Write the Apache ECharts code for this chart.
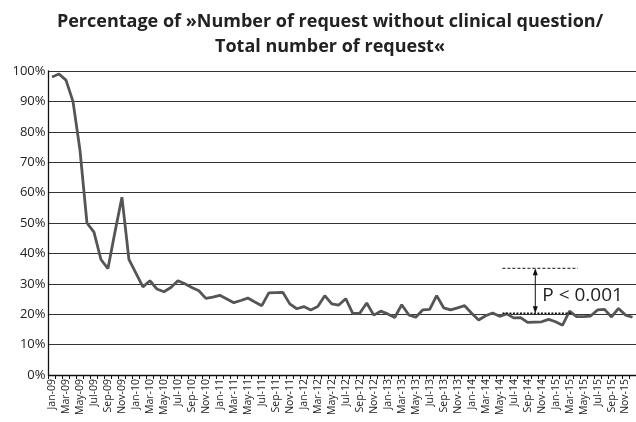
<!DOCTYPE html>
<html>
<head>
<meta charset="utf-8">
<script src="https://cdn.jsdelivr.net/npm/echarts@6/dist/echarts.min.js"></script>
<style>
  html, body { margin: 0; padding: 0; background: #fff; }
  #chart { width: 636px; height: 422px; }
</style>
</head>
<body>
<div id="chart"></div>
<script>
// month labels Jan-09 .. Dec-15
const monthNames = ['Jan', 'Feb', 'Mar', 'Apr', 'May', 'Jun', 'Jul', 'Aug', 'Sep', 'Oct', 'Nov', 'Dec']
const years = ['09', '10', '11', '12', '13', '14', '15']
const categories = []
years.forEach(y => monthNames.forEach(m => categories.push(m + '-' + y)))

// share of requests without clinical question (%)
const pctValues = [
  98, 99, 97, 90, 74, 50, 47, 38, 35, 47, 58.5, 38,
  33.5, 29, 31, 28.3, 27.4, 28.8, 31, 30, 28.8, 27.7, 25.2, 25.6,
  26.2, 25, 23.8, 24.5, 25.3, 24, 22.8, 27, 27.1, 27.2, 23.4, 21.8,
  22.5, 21.4, 22.5, 26.1, 23.4, 23, 25.1, 20.3, 20.3, 23.7, 19.7, 21,
  20.1, 18.9, 23.1, 19.8, 19, 21.4, 21.6, 26.1, 22.1, 21.4, 22.1, 22.8,
  20.3, 18.1, 19.5, 20.4, 19.3, 20.1, 18.8, 18.9, 17.3, 17.4, 17.5, 18.3,
  17.5, 16.4, 21, 19.2, 19.2, 19.4, 21.4, 21.6, 19.1, 21.9, 19.7, 19
]

const yTicks = [0, 10, 20, 30, 40, 50, 60, 70, 80, 90, 100]

// p-value annotation: reference levels (%) and their category spans
const annoLevels = [35.1, 20.3]
const annoSpans = [[64.4, 75.2], [64.4, 74.3]]
const arrowAt = 69.1
const annoText = 'P < 0.001'
const annoTextLevel = 26.2

const chart = echarts.init(document.getElementById('chart'))

const option = {
  backgroundColor: '#fff',
  animation: false,
  title: {
    text: 'Percentage of \u00bbNumber of request without clinical question/\nTotal number of request\u00ab',
    left: 325,
    top: 4,
    textAlign: 'center',
    textStyle: {
      fontFamily: 'Open Sans',
      fontSize: 18,
      fontWeight: 'bold',
      color: '#222',
      lineHeight: 25
    }
  },
  grid: { left: 48.5, right: -5, top: 71, bottom: 47, containLabel: false },
  xAxis: {
    type: 'category',
    data: categories,
    boundaryGap: true,
    axisLine: { lineStyle: { color: '#111', width: 1.3 } },
    axisTick: { show: true, interval: 0, length: 4, lineStyle: { color: '#111' } },
    axisLabel: {
      interval: 1,
      rotate: 90,
      fontFamily: 'Open Sans',
      fontSize: 10.5,
      color: '#222',
      margin: 4
    },
    splitLine: { show: false }
  },
  yAxis: {
    type: 'value',
    min: yTicks[0],
    max: yTicks[yTicks.length - 1],
    interval: 10,
    axisLine: { show: true, lineStyle: { color: '#111', width: 1.3 } },
    axisTick: { show: false },
    axisLabel: {
      formatter: '{value}%',
      fontFamily: 'Open Sans',
      fontSize: 13,
      color: '#222',
      margin: 3
    },
    splitLine: { lineStyle: { color: '#333', width: 1.2 } }
  },
  series: [
    {
      type: 'line',
      data: pctValues,
      showSymbol: false,
      lineStyle: { color: '#555', width: 2.8 },
      z: 3
    }
  ]
}

chart.setOption(option)

// helper: pixel position for fractional category index
const px = (idx, val) => {
  const a = Math.floor(idx)
  const p0 = chart.convertToPixel({ gridIndex: 0 }, [a, val])
  const p1 = chart.convertToPixel({ gridIndex: 0 }, [a + 1, val])
  return [p0[0] + (idx - a) * (p1[0] - p0[0]), p0[1]]
}

const graphics = []
annoLevels.forEach((lvl, k) => {
  const s = px(annoSpans[k][0], lvl)
  const e = px(annoSpans[k][1], lvl)
  graphics.push({
    type: 'line',
    shape: { x1: s[0], y1: s[1], x2: e[0], y2: e[1] },
    style: { stroke: '#111', lineWidth: k === 0 ? 1 : 1.6, lineDash: k === 0 ? [3, 2] : [2, 1.5] },
    z: 10
  })
})

const arrTop = px(arrowAt, annoLevels[0])
const arrBot = px(arrowAt, annoLevels[1])
graphics.push({
  type: 'line',
  shape: { x1: arrTop[0], y1: arrTop[1] + 2, x2: arrBot[0], y2: arrBot[1] - 2 },
  style: { stroke: '#111', lineWidth: 1 },
  z: 10
})
graphics.push({
  type: 'polygon',
  shape: { points: [[arrTop[0], arrTop[1]], [arrTop[0] - 2.5, arrTop[1] + 7], [arrTop[0] + 2.5, arrTop[1] + 7]] },
  style: { fill: '#111' },
  z: 10
})
graphics.push({
  type: 'polygon',
  shape: { points: [[arrBot[0], arrBot[1]], [arrBot[0] - 2.5, arrBot[1] - 7], [arrBot[0] + 2.5, arrBot[1] - 7]] },
  style: { fill: '#111' },
  z: 10
})
const tp = px(arrowAt, annoTextLevel)
graphics.push({
  type: 'text',
  x: tp[0] + 7,
  y: tp[1],
  style: {
    text: annoText,
    fontFamily: 'Open Sans',
    fontSize: 19,
    fill: '#222',
    verticalAlign: 'middle',
    align: 'left'
  },
  z: 10
})

chart.setOption({ graphic: graphics })
</script>
</body>
</html>
